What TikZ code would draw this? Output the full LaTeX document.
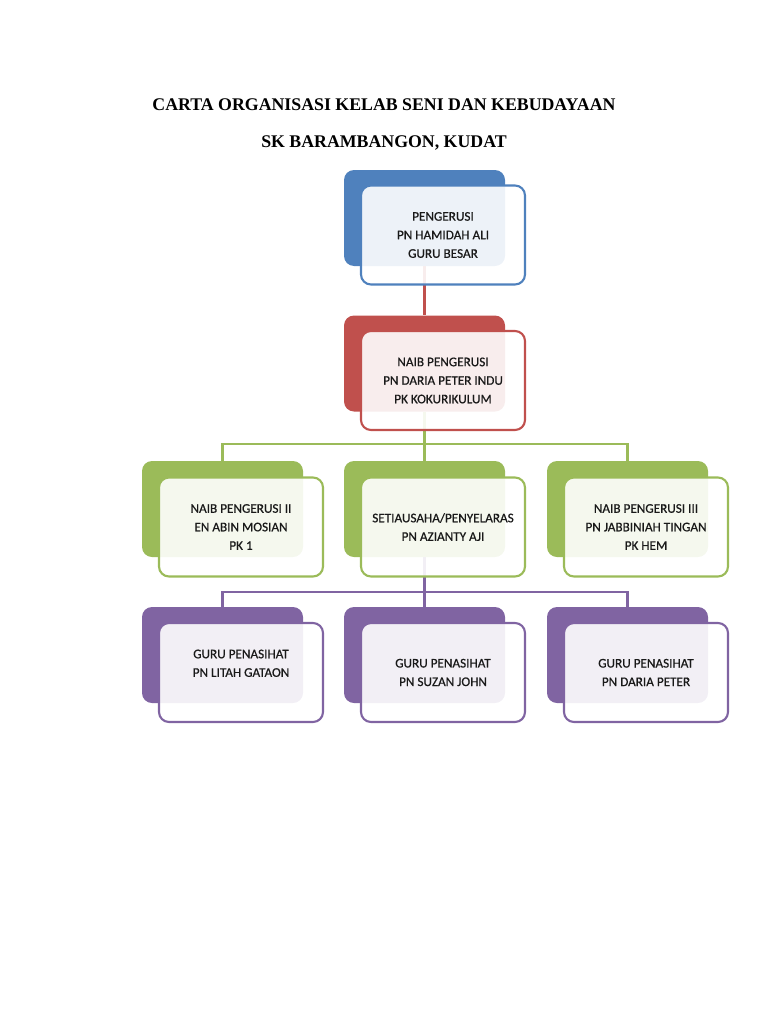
\documentclass[tikz,border=0pt]{standalone}
\usepackage{fontspec}
\setmainfont{Liberation Serif}
\newfontfamily\boxfont[FakeBold=0.6]{Carlito}
\usetikzlibrary{backgrounds}
\definecolor{cblue}{HTML}{4F81BD}
\definecolor{cred}{HTML}{C0504D}
\definecolor{cgreen}{HTML}{9BBB59}
\definecolor{cpurple}{HTML}{8064A2}
\begin{document}
\begin{tikzpicture}[x=0.75pt,y=-0.75pt,
  backbox/.style={rectangle, rounded corners=7.5pt, fill=#1, draw=none,
    minimum width=120.75pt, minimum height=72pt, inner sep=0pt},
  frontbox/.style={rectangle, rounded corners=7.5pt, draw=#1, line width=1.6pt,
    fill=white, fill opacity=0.9, text opacity=1,
    minimum width=123pt, minimum height=74.25pt, inner sep=0pt, align=center,
    font=\boxfont\fontsize{9.9}{13.9}\selectfont, text=black!90},
  conn/.style={draw=#1, line width=1.8pt},
  titletext/.style={font=\bfseries\fontsize{13.35}{15}\selectfont, anchor=base}]
\useasboundingbox (0,0) rectangle (768,1024);

\node[titletext] (t1) at (384,110) {CARTA ORGANISASI KELAB SENI DAN KEBUDAYAAN};
\node[titletext] (t2) at (384,147) {SK BARAMBANGON, KUDAT};

% row 1
\node[backbox=cblue] (b1) at (424.5,218) {};
\node[frontbox=cblue] (f1) at (443,235) {PENGERUSI\\PN HAMIDAH ALI\\GURU BESAR};
% row 2
\node[backbox=cred] (b2) at (424.5,363.5) {};
\node[frontbox=cred] (f2) at (443,380.5) {NAIB PENGERUSI\\PN DARIA PETER INDU\\PK KOKURIKULUM};
% row 3
\node[backbox=cgreen] (b3a) at (222.5,509) {};
\node[frontbox=cgreen] (f3a) at (241,527) {NAIB PENGERUSI II\\EN ABIN MOSIAN\\PK 1};
\node[backbox=cgreen] (b3b) at (424.5,509) {};
\node[frontbox=cgreen] (f3b) at (443,527) {SETIAUSAHA/PENYELARAS\\PN AZIANTY AJI};
\node[backbox=cgreen] (b3c) at (627.5,509) {};
\node[frontbox=cgreen] (f3c) at (646,527) {NAIB PENGERUSI III\\PN JABBINIAH TINGAN\\PK HEM};
% row 4
\node[backbox=cpurple] (b4a) at (222.5,655) {};
\node[frontbox=cpurple] (f4a) at (241,672.5) {GURU PENASIHAT\\PN LITAH GATAON\\~};
\node[backbox=cpurple] (b4b) at (424.5,655) {};
\node[frontbox=cpurple] (f4b) at (443,672.5) {GURU PENASIHAT\\PN SUZAN JOHN};
\node[backbox=cpurple] (b4c) at (627.5,655) {};
\node[frontbox=cpurple] (f4c) at (646,672.5) {GURU PENASIHAT\\PN DARIA PETER};

\coordinate (g) at (424.5,444);
\coordinate (p) at (424.5,592);
\begin{scope}[on background layer]
  \draw[conn=cred] (b1.south) -- (b2.north);
  \draw[conn=cgreen] (b2.south) -- (g);
  \draw[conn=cgreen] (b3a.north) |- (g) -| (b3c.north);
  \draw[conn=cgreen] (g) -- (b3b.north);
  \draw[conn=cpurple] (b3b.south) -- (p);
  \draw[conn=cpurple] (b4a.north) |- (p) -| (b4c.north);
  \draw[conn=cpurple] (p) -- (b4b.north);
\end{scope}
\end{tikzpicture}
\end{document}
